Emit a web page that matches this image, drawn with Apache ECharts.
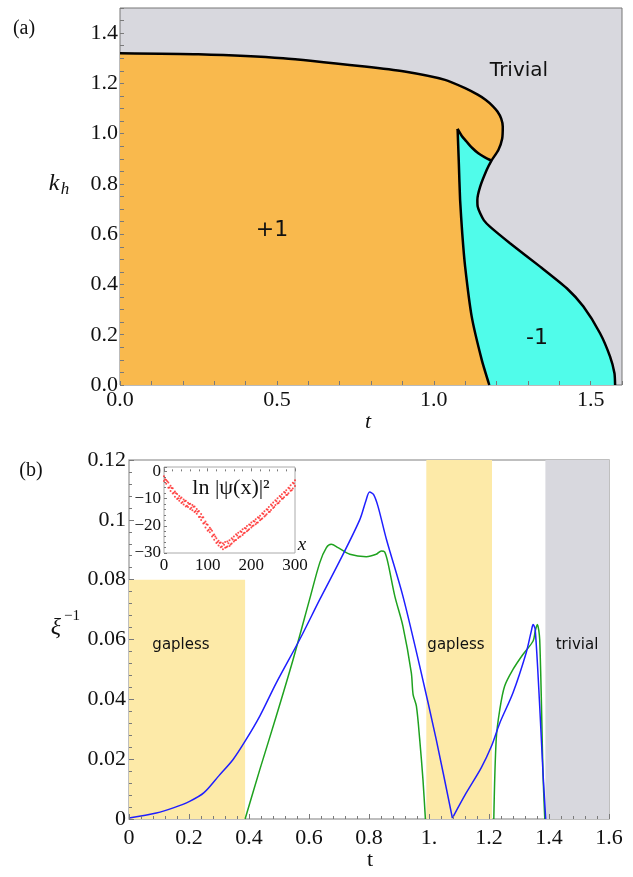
<!DOCTYPE html>
<html lang="en">
<head>
<meta charset="UTF-8">
<title>Phase diagram and inverse localization length</title>
<script src="https://cdn.jsdelivr.net/npm/echarts@6/dist/echarts.min.js"></script>
<style>
    html, body { margin: 0; padding: 0; background: #fff; }
    #chart { width: 633px; height: 877px; }
</style>
</head>
<body>
<div id="chart"></div>
<script>
    // ---- panel (a): phase boundaries in the (t, k_h) plane ----
    // outer boundary, from t=0 to the junction point
    var topT = [0, 0.25, 0.52, 0.78, 0.907, 1.036, 1.10, 1.140, 1.165, 1.188, 1.203, 1.215, 1.220, 1.218, 1.206, 1.184];
    var topK = [1.320, 1.316, 1.300, 1.267, 1.247, 1.214, 1.181, 1.155, 1.135, 1.110, 1.088, 1.060, 1.028, 0.980, 0.935, 0.893];
    // outer boundary, from the junction down to k=0
    var rightT = [1.184, 1.169, 1.148, 1.139, 1.140, 1.148, 1.160, 1.179, 1.243, 1.339, 1.424, 1.477, 1.530, 1.562, 1.576, 1.578];
    var rightK = [0.893, 0.856, 0.789, 0.736, 0.710, 0.683, 0.655, 0.630, 0.564, 0.471, 0.385, 0.312, 0.206, 0.113, 0.047, 0];
    // cusp line, tip -> junction
    var cuspT = [1.076, 1.090, 1.105, 1.122, 1.142, 1.163, 1.184];
    var cuspK = [1.019, 0.990, 0.968, 0.944, 0.922, 0.906, 0.893];
    // left edge of the -1 phase, tip -> k=0
    var leftT = [1.076, 1.080, 1.084, 1.091, 1.100, 1.121, 1.153, 1.177];
    var leftK = [1.019, 0.880, 0.736, 0.600, 0.471, 0.272, 0.100, 0];

    // ---- panel (b): xi^-1 versus t ----
    var blueT = [0, 0.091, 0.150, 0.202, 0.250, 0.300, 0.347, 0.387, 0.436, 0.491, 0.569, 0.636, 0.702, 0.769, 0.790, 0.802,
        0.815, 0.830, 0.858, 0.913, 0.969, 1.024, 1.078, 1.124, 1.174, 1.208, 1.236, 1.280, 1.324, 1.341, 1.347,
        1.354, 1.369, 1.380, 1.389];
    var blueV = [0.0003, 0.002, 0.0038, 0.0059, 0.0088, 0.0145, 0.0199, 0.026, 0.0344, 0.0455, 0.060, 0.0734, 0.0862, 0.100, 0.1065, 0.1093,
        0.1085, 0.1045, 0.0935, 0.0745, 0.0511, 0.0266, 0.0003, 0.0087, 0.0171, 0.0243, 0.0321, 0.0422, 0.0556, 0.0628, 0.065,
        0.0634, 0.0377, 0.0154, 0];
    var greenT = [0.387, 0.436, 0.491, 0.547, 0.602, 0.636, 0.658, 0.674, 0.697, 0.736, 0.791, 0.824, 0.841, 0.852,
        0.863, 0.886, 0.913, 0.941, 0.947, 0.958, 0.969, 0.980, 0.988, 1.10,
        1.216, 1.224, 1.236, 1.252, 1.280, 1.313, 1.347, 1.354, 1.361, 1.369, 1.380, 1.386];
    var greenV = [0, 0.0165, 0.0344, 0.0533, 0.0734, 0.0857, 0.0907, 0.0918, 0.0907, 0.0885, 0.0877, 0.0885, 0.0896, 0.0893,
        0.0857, 0.0745, 0.0645, 0.0489, 0.0416, 0.0377, 0.0266, 0.013, 0, null,
        0, 0.0266, 0.0366, 0.0444, 0.050, 0.055, 0.0595, 0.0628, 0.065, 0.060, 0.0154, 0];

    // shaded bands: gapless, gapless, trivial
    var bandFrom = [0, 0.991, 1.388];
    var bandTo = [0.387, 1.21, 1.6];
    var bandTop = [0.08, 0.12, 0.12];
    var bandColor = ['#fdeaa8', '#fdeaa8', '#d8d8de'];

    // ---- inset: ln|psi(x)|^2 ----
    var inX = [0, 5, 10, 15, 20, 25, 30, 35, 40, 45, 50, 55, 60, 65, 70, 75, 80, 85, 90, 95, 100, 105, 110, 115, 120,
        125, 130, 135, 140, 145, 150, 155, 160, 165, 170, 175, 180, 185, 190, 195, 200, 205, 210, 215, 220, 225,
        230, 235, 240, 245, 250, 255, 260, 265, 270, 275, 280, 285, 290, 295, 300];
    var inYa = [-1.8, -3.2, -4.1, -5.3, -6.2, -7.4, -8.3, -9.1, -9.6, -10.3, -10.8, -11.5, -11.9, -12.4, -12.9, -13.8,
        -14.6, -15.7, -16.9, -18.4, -19.6, -20.7, -21.8, -23.2, -24.6, -25.5, -26.1, -26.4, -26.0, -25.8, -25.3,
        -24.6, -23.9, -23.1, -22.6, -22.0, -21.3, -20.8, -20.1, -19.5, -18.8, -18.2, -17.6, -16.9, -16.3, -15.4,
        -14.7, -13.9, -13.1, -12.2, -11.4, -10.6, -9.9, -9.1, -8.4, -7.6, -6.9, -6.0, -5.1, -4.2, -3.3];
    var inYb = [-3.5, -4.6, -6.0, -7.2, -8.1, -9.3, -10.2, -10.8, -11.6, -12.2, -12.9, -13.1, -13.8, -14.3, -14.9, -15.6,
        -16.8, -17.9, -19.2, -20.6, -21.8, -22.4, -23.9, -25.1, -26.3, -27.2, -27.9, -28.6, -28.1, -27.6, -27.4,
        -26.5, -25.8, -25.2, -24.5, -23.9, -23.4, -22.6, -22.0, -21.3, -20.6, -19.9, -19.4, -18.8, -18.0, -17.3,
        -16.6, -15.8, -14.9, -14.2, -13.5, -12.4, -11.8, -11.0, -10.1, -9.5, -8.7, -8.0, -7.1, -6.3, -5.4];
    var inX2 = [2.5, 7.5, 12.5, 17.5, 22.5, 27.5, 32.5, 37.5, 42.5, 47.5, 52.5, 57.5, 62.5, 67.5, 72.5, 77.5, 82.5, 87.5,
        92.5, 97.5, 102.5, 107.5, 112.5, 117.5, 122.5, 127.5, 132.5, 137.5, 142.5, 147.5, 152.5, 157.5, 162.5, 167.5,
        172.5, 177.5, 182.5, 187.5, 192.5, 197.5, 202.5, 207.5, 212.5, 217.5, 222.5, 227.5, 232.5, 237.5, 242.5,
        247.5, 252.5, 257.5, 262.5, 267.5, 272.5, 277.5, 282.5, 287.5, 292.5, 297.5];
    var inYc = [-2.9, -3.6, -5.9, -6.1, -7.9, -8.0, -9.9, -10.0, -11.3, -11.0, -12.6, -12.0, -13.4, -13.0, -14.6, -14.8,
        -16.7, -17.0, -18.9, -19.4, -21.5, -21.3, -23.5, -23.9, -26.0, -26.3, -27.6, -27.0, -27.9, -26.4, -26.9,
        -25.0, -25.3, -23.6, -24.0, -22.3, -22.7, -21.0, -21.6, -19.7, -20.1, -18.4, -18.9, -17.1, -17.6, -15.7,
        -16.2, -14.1, -14.8, -12.6, -13.1, -11.0, -11.6, -9.4, -10.0, -7.9, -8.6, -6.3, -6.9, -4.5];

    function pairs(xs, ys) {
        return xs.map(function (x, i) {
            return [x, ys[i] === null ? '-' : ys[i]];
        });
    }

    var topLine = pairs(topT, topK);
    var rightLine = pairs(rightT, rightK);
    var cuspLine = pairs(cuspT, cuspK);
    var leftLine = pairs(leftT, leftK);

    var orangePoly = [[0, 0]].concat(topLine, cuspLine.slice(0, -1).reverse(), leftLine.slice(1));
    var cyanPoly = cuspLine.concat(rightLine.slice(1), leftLine.slice(1).reverse());
    var polys = [orangePoly, cyanPoly];
    var polyColor = ['#f9b94d', '#50fcea'];

    // the blue curve has a sharp V at its zero, so draw it as two pieces
    var blueData = pairs(blueT, blueV);
    var vIdx = blueT.indexOf(1.078);
    var blueLeft = blueData.slice(0, vIdx + 1);
    var blueRight = blueData.slice(vIdx);

    var inDots = pairs(inX, inYa).concat(pairs(inX, inYb), pairs(inX2, inYc));

    var SERIF = 'Liberation Serif';
    var TICK = '#7a7a7a';

    function tickLabel(size) {
        return {fontFamily: SERIF, fontSize: size, color: '#111'};
    }

    function txt(x, y, text, font, z) {
        return {
            type: 'text', x: x, y: y, z: z || 10,
            style: {text: text, font: font, fill: '#111', textAlign: 'center', textVerticalAlign: 'middle'}
        };
    }

    var chart = echarts.init(document.getElementById('chart'));

    chart.setOption({
        animation: false,
        grid: [
            {left: 120, top: 8, width: 502, height: 377, show: true, backgroundColor: '#d8d8de', borderColor: '#777', borderWidth: 1},
            {left: 129, top: 460, width: 480, height: 359, show: true, backgroundColor: '#fff', borderColor: '#aaa', borderWidth: 1.5},
            {left: 164, top: 467, width: 131, height: 86, show: true, backgroundColor: '#fff', borderColor: '#aaa', borderWidth: 1, z: 5}
        ],
        xAxis: [
            {
                gridIndex: 0, type: 'value', min: 0, max: 1.6, interval: 0.1, z: 5,
                splitLine: {show: false}, axisLine: {show: false},
                axisTick: {inside: true, length: 4, lineStyle: {color: TICK}},
                axisLabel: Object.assign(tickLabel(22), {
                    margin: 4,
                    formatter: function (v) {
                        return Math.round(v * 10) % 5 === 0 ? v.toFixed(1) : '';
                    }
                })
            },
            {
                gridIndex: 1, type: 'value', min: 0, max: 1.6, interval: 0.2, z: 5,
                splitLine: {show: false}, axisLine: {show: false},
                axisTick: {inside: true, length: 5, lineStyle: {color: TICK}},
                minorTick: {show: true, splitNumber: 5, length: 3, lineStyle: {color: TICK}},
                axisLabel: Object.assign(tickLabel(22), {
                    margin: 8,
                    formatter: function (v) {
                        if (v === 0) return '0';
                        if (Math.abs(v - 1) < 1e-9) return '1.';
                        return v.toFixed(1);
                    }
                })
            },
            {
                gridIndex: 2, type: 'value', min: 0, max: 300, interval: 100, z: 6,
                splitLine: {show: false}, axisLine: {show: false},
                axisTick: {inside: true, length: 3, lineStyle: {color: TICK}},
                minorTick: {show: true, splitNumber: 5, length: 2, lineStyle: {color: TICK}},
                axisLabel: Object.assign(tickLabel(17), {margin: 4})
            }
        ],
        yAxis: [
            {
                gridIndex: 0, type: 'value', min: 0, max: 1.5, interval: 0.05, z: 5,
                splitLine: {show: false}, axisLine: {show: false},
                axisTick: {inside: true, length: 4, lineStyle: {color: TICK}},
                axisLabel: Object.assign(tickLabel(22), {
                    margin: 2,
                    formatter: function (v) {
                        return Math.round(v * 100) % 20 === 0 ? v.toFixed(1) : '';
                    }
                })
            },
            {
                gridIndex: 1, type: 'value', min: 0, max: 0.12, interval: 0.02, z: 5,
                splitLine: {show: false}, axisLine: {show: false},
                axisTick: {inside: true, length: 5, lineStyle: {color: TICK}},
                minorTick: {show: true, splitNumber: 5, length: 3, lineStyle: {color: TICK}},
                axisLabel: Object.assign(tickLabel(22), {
                    margin: 3,
                    formatter: function (v) {
                        return v === 0 ? '0' : String(+v.toFixed(2));
                    }
                })
            },
            {
                gridIndex: 2, type: 'value', min: -30, max: 1.6, interval: 10, z: 6,
                splitLine: {show: false}, axisLine: {show: false},
                axisTick: {inside: true, length: 3, lineStyle: {color: TICK}},
                minorTick: {show: true, splitNumber: 5, length: 2, lineStyle: {color: TICK}},
                axisLabel: Object.assign(tickLabel(17), {
                    margin: 3,
                    formatter: function (v) {
                        if (v > 0.5) return '';
                        return v < 0 ? '\u2212' + (-v) : '0';
                    }
                })
            }
        ],
        series: [
            {
                // filled phases (orange +1, cyan -1); grey background is the grid
                type: 'custom', xAxisIndex: 0, yAxisIndex: 0, clip: true,
                data: [[0, 0], [0, 0]],
                renderItem: function (params, api) {
                    var i = params.dataIndex;
                    return {
                        type: 'polygon',
                        shape: {points: polys[i].map(function (p) { return api.coord(p); })},
                        style: {fill: polyColor[i]}
                    };
                }
            },
            {
                type: 'line', xAxisIndex: 0, yAxisIndex: 0, showSymbol: false, smooth: 0.2,
                data: topLine.concat(rightLine.slice(1)),
                lineStyle: {color: '#000', width: 2.5}
            },
            {
                type: 'line', xAxisIndex: 0, yAxisIndex: 0, showSymbol: false, smooth: 0.2,
                data: cuspLine, lineStyle: {color: '#000', width: 2.5}
            },
            {
                type: 'line', xAxisIndex: 0, yAxisIndex: 0, showSymbol: false, smooth: 0.2,
                data: leftLine, lineStyle: {color: '#000', width: 2.5}
            },
            {
                // gapless / trivial bands
                type: 'custom', xAxisIndex: 1, yAxisIndex: 1, clip: true,
                data: bandFrom.map(function (f, i) { return [f, bandTop[i]]; }),
                renderItem: function (params, api) {
                    var i = params.dataIndex;
                    var a = api.coord([bandFrom[i], bandTop[i]]);
                    var b = api.coord([bandTo[i], 0]);
                    return {
                        type: 'rect',
                        shape: {x: a[0], y: a[1], width: b[0] - a[0], height: b[1] - a[1]},
                        style: {fill: bandColor[i]}
                    };
                }
            },
            {
                type: 'line', xAxisIndex: 1, yAxisIndex: 1, showSymbol: false, smooth: 0.3,
                connectNulls: false, data: pairs(greenT, greenV),
                lineStyle: {color: '#1fa21f', width: 1.5}
            },
            {
                type: 'line', xAxisIndex: 1, yAxisIndex: 1, showSymbol: false, smooth: 0.3,
                data: blueLeft, lineStyle: {color: '#1f1fff', width: 1.5}
            },
            {
                type: 'line', xAxisIndex: 1, yAxisIndex: 1, showSymbol: false, smooth: 0.3,
                data: blueRight, lineStyle: {color: '#1f1fff', width: 1.5}
            },
            {
                type: 'scatter', xAxisIndex: 2, yAxisIndex: 2, z: 6,
                symbolSize: 2, data: inDots,
                itemStyle: {color: '#ff2020'}
            }
        ],
        graphic: [
            txt(24, 29, '(a)', '20px "Liberation Serif"'),
            txt(31, 471, '(b)', '20px "Liberation Serif"'),
            txt(519, 71, 'Trivial', '20px "DejaVu Sans"'),
            txt(272, 230, '+1', '22px "DejaVu Sans"'),
            txt(537, 338, '-1', '22px "DejaVu Sans"'),
            txt(54, 184, 'k', 'italic 24px "Liberation Serif"'),
            txt(65, 190, 'h', 'italic 17px "Liberation Serif"'),
            txt(368, 422, 't', 'italic 22px "Liberation Serif"'),
            txt(370, 860, 't', '22px "Liberation Serif"'),
            txt(56, 628, '\u03be', 'italic 24px "Liberation Serif"'),
            txt(72, 616, '\u22121', '15px "Liberation Serif"'),
            txt(181, 645, 'gapless', '15px "DejaVu Sans"'),
            txt(456, 645, 'gapless', '15px "DejaVu Sans"'),
            txt(577, 645, 'trivial', '15px "DejaVu Sans"'),
            txt(231, 488, 'ln |\u03c8(x)|\u00b2', '22px "Liberation Serif"', 20),
            txt(302, 545, 'x', 'italic 19px "Liberation Serif"', 20)
        ]
    });
</script>
</body>
</html>
